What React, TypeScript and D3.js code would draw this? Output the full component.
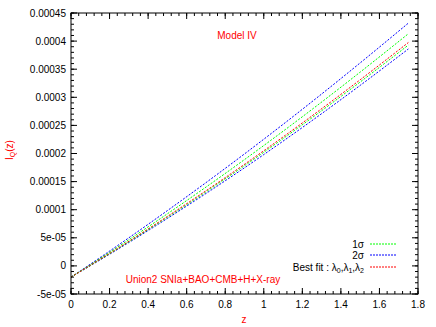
import React from 'react';
import * as d3 from 'd3';

// redshift samples
const zValues = [0, 0.25, 0.5, 0.75, 1.0, 1.25, 1.5, 1.75];

// curves
const upper2Sigma = [-0.00002, 0.0000381, 0.0000984, 0.0001608, 0.0002254, 0.0002922, 0.0003612, 0.000432];
const upper1Sigma = [-0.00002, 0.0000352, 0.0000927, 0.0001523, 0.0002142, 0.0002784, 0.0003448, 0.0004131];
const bestFit = [-0.00002, 0.0000329, 0.000088, 0.0001453, 0.0002049, 0.0002669, 0.0003312, 0.0003975];
const lower1Sigma = [-0.00002, 0.0000322, 0.0000866, 0.0001432, 0.0002022, 0.0002636, 0.0003272, 0.0003929];
const lower2Sigma = [-0.00002, 0.0000311, 0.0000845, 0.0001401, 0.0001981, 0.0002585, 0.0003212, 0.000386];

const xTicks = [0, 0.2, 0.4, 0.6, 0.8, 1, 1.2, 1.4, 1.6, 1.8];
const xTickLabels = ['0', '0.2', '0.4', '0.6', '0.8', '1', '1.2', '1.4', '1.6', '1.8'];
const yTicks = [-0.00005, 0, 0.00005, 0.0001, 0.00015, 0.0002, 0.00025, 0.0003, 0.00035, 0.0004, 0.00045];
const yTickLabels = ['-5e-05', '0', '5e-05', '0.0001', '0.00015', '0.0002', '0.00025', '0.0003', '0.00035', '0.0004', '0.00045'];

const W = 436, H = 327;
const left = 71, right = 418, top = 13, bottom = 294;
const font = 'Liberation Sans, Arial, Helvetica, sans-serif';

const App = () => {
  const x = d3.scaleLinear().domain([0, 1.8]).range([left, right]);
  const y = d3.scaleLinear().domain([-0.00005, 0.00045]).range([bottom, top]);

  const line = d3.line<number>()
    .x((_, i) => x(zValues[i]))
    .y(d => y(d))
    .curve(d3.curveMonotoneX);

  const series = [
    { data: upper2Sigma, color: '#0000ff' },
    { data: lower2Sigma, color: '#0000ff' },
    { data: upper1Sigma, color: '#00ff00' },
    { data: lower1Sigma, color: '#00ff00' },
    { data: bestFit, color: '#ff0000' },
  ];

  // minor ticks: 5 subdivisions per major step
  const xMinor = d3.range(0, 1.8001, 0.04);
  const yMinor = d3.range(-0.00005, 0.000450001, 0.00001);

  const legend = [
    { label: '1σ', color: '#00ff00' },
    { label: '2σ', color: '#0000ff' },
    { label: 'best', color: '#ff0000' },
  ];
  const legendY = [244, 255, 267];

  return (
    <svg width={W} height={H} style={{ position: 'absolute', left: 0, top: 0, background: '#fff' }}
      fontFamily={font}>
      <rect x={0} y={0} width={W} height={H} fill="#fff" />

      {series.map((s, i) => (
        <path key={i} d={line(s.data) || ''} fill="none" stroke={s.color}
          strokeWidth={1} strokeDasharray="2,1.5" />
      ))}

      {/* minor ticks */}
      {xMinor.map((t, i) => (
        <g key={'xm' + i} stroke="#000" strokeWidth={1}>
          <line x1={x(t)} x2={x(t)} y1={bottom} y2={bottom - 3} />
          <line x1={x(t)} x2={x(t)} y1={top} y2={top + 3} />
        </g>
      ))}
      {yMinor.map((t, i) => (
        <g key={'ym' + i} stroke="#000" strokeWidth={1}>
          <line x1={left} x2={left + 3} y1={y(t)} y2={y(t)} />
          <line x1={right} x2={right - 3} y1={y(t)} y2={y(t)} />
        </g>
      ))}

      {/* major ticks and labels */}
      {xTicks.map((t, i) => (
        <g key={'x' + i}>
          <line x1={x(t)} x2={x(t)} y1={bottom} y2={bottom - 6} stroke="#000" />
          <line x1={x(t)} x2={x(t)} y1={top} y2={top + 6} stroke="#000" />
          <text x={x(t)} y={bottom + 14} fontSize={10} textAnchor="middle">{xTickLabels[i]}</text>
        </g>
      ))}
      {yTicks.map((t, i) => (
        <g key={'y' + i}>
          <line x1={left} x2={left + 6} y1={y(t)} y2={y(t)} stroke="#000" />
          <line x1={right} x2={right - 6} y1={y(t)} y2={y(t)} stroke="#000" />
          <text x={left - 5} y={y(t) + 3.5} fontSize={10} textAnchor="end">{yTickLabels[i]}</text>
        </g>
      ))}

      <rect x={left} y={top} width={right - left} height={bottom - top} fill="none" stroke="#000" strokeWidth={1} />

      {/* annotations */}
      <text x={237} y={39} fontSize={10} fill="#ff0000" textAnchor="middle">Model IV</text>
      <text x={203} y={283} fontSize={10} fill="#ff0000" textAnchor="middle">Union2 SNIa+BAO+CMB+H+X-ray</text>
      <text x={244} y={323} fontSize={10} fill="#ff0000" textAnchor="middle">z</text>
      <text transform="translate(13,150) rotate(-90)" fontSize={10} fill="#ff0000" textAnchor="middle">
        I<tspan fontSize={7} dy={2}>Q</tspan><tspan dy={-2}>(z)</tspan>
      </text>

      {/* legend */}
      {legend.map((l, i) => (
        <g key={'l' + i}>
          <line x1={370} x2={397} y1={legendY[i]} y2={legendY[i]} stroke={l.color} strokeDasharray="2,1" />
          {l.label === 'best' ? (
            <text x={364} y={legendY[i] + 3.5} fontSize={10} textAnchor="end">
              Best fit : λ<tspan fontSize={7} dy={2}>0</tspan><tspan dy={-2}>,λ</tspan>
              <tspan fontSize={7} dy={2}>1</tspan><tspan dy={-2}>,λ</tspan>
              <tspan fontSize={7} dy={2}>2</tspan>
            </text>
          ) : (
            <text x={364} y={legendY[i] + 3.5} fontSize={10} textAnchor="end">{l.label}</text>
          )}
        </g>
      ))}
    </svg>
  );
};

export default App;
